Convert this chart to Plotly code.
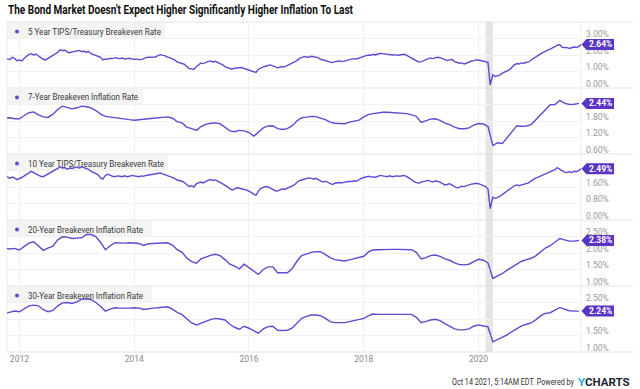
import json
import pandas as pd
import plotly.graph_objects as go
from plotly.subplots import make_subplots

TITLE = "The Bond Market Doesn't Expect Higher Significantly Higher Inflation To Last"
FOOTER = "Oct 14 2021, 5:14AM EDT. Powered by"

names = [
    "5 Year TIPS/Treasury Breakeven Rate",
    "7-Year Breakeven Inflation Rate",
    "10 Year TIPS/Treasury Breakeven Rate",
    "20-Year Breakeven Inflation Rate",
    "30-Year Breakeven Inflation Rate",
]
last_labels = ["2.64%", "2.44%", "2.49%", "2.38%", "2.24%"]

# y-axis ranges / tick values / tick labels per panel (percent)
y_ranges = [[0, 4.0], [0.6, 3.0], [0, 3.2], [1.0, 3.0], [1.0, 3.0]]
y_ticks = [[0, 1, 2, 3], [0.6, 1.2, 1.8, 2.4], [0, 0.8, 1.6, 2.4],
           [1.0, 1.5, 2.0, 2.5], [1.0, 1.5, 2.0, 2.5]]
y_ticktext = [["0.00%", "1.00%", "2.00%", "3.00%"],
              ["0.60%", "1.20%", "1.80%", ""],
              ["0.00%", "0.80%", "1.60%", ""],
              ["1.00%", "1.50%", "2.00%", "2.50%"],
              ["1.00%", "1.50%", "", "2.50%"]]

# ---- semi-monthly (1st & 15th) values: 5 Year breakeven ----
t5yr = [
    1.78, 1.72, 1.86, 1.80, 1.66,
    1.70, 1.64, 1.82, 1.92, 2.02, 2.08, 2.00, 2.06, 1.94, 1.84, 1.74, 1.70,
    1.78, 1.86, 1.98, 2.06, 2.16, 2.32, 2.26, 2.30, 2.18, 2.14, 2.20, 2.22,
    2.24, 2.28, 2.20, 2.24, 2.16, 2.22, 2.08, 2.02, 1.98, 1.94, 1.86, 1.70,
    1.76, 1.74, 1.80, 1.78, 1.84, 1.80, 1.78, 1.82, 1.76, 1.78, 1.80, 1.76,
    1.74, 1.76, 1.70, 1.72, 1.78, 1.84, 1.86, 1.88, 1.90, 1.88, 1.96, 2.02,
    1.98, 1.96, 1.86, 1.84, 1.76, 1.70, 1.58, 1.54, 1.50, 1.44, 1.30, 1.18,
    1.16, 1.12, 1.30, 1.42, 1.52, 1.48, 1.56, 1.60, 1.64, 1.58, 1.62, 1.56,
    1.48, 1.42, 1.30, 1.24, 1.18, 1.14, 1.20, 1.22, 1.26, 1.24, 1.18, 1.14,
    1.10, 1.02, 0.98, 0.94, 1.14, 1.22, 1.28, 1.32, 1.38, 1.40, 1.34, 1.28,
    1.22, 1.26, 1.30, 1.28, 1.36, 1.40, 1.50, 1.56, 1.66, 1.78, 1.86, 1.90,
    1.88, 1.86, 1.92, 1.90, 1.88, 1.84, 1.74, 1.70, 1.68, 1.64, 1.58, 1.54,
    1.60, 1.62, 1.64, 1.60, 1.62, 1.66, 1.72, 1.76, 1.78, 1.76, 1.82, 1.86,
    1.90, 1.96, 2.00, 1.98, 2.04, 2.00, 2.06, 2.10, 2.08, 2.06, 2.06, 2.04,
    2.00, 2.02, 1.98, 2.00, 2.02, 2.04, 1.98, 1.90, 1.84, 1.76, 1.66, 1.58,
    1.60, 1.66, 1.74, 1.78, 1.82, 1.78, 1.84, 1.86, 1.84, 1.80, 1.72, 1.66,
    1.72, 1.74, 1.60, 1.54, 1.50, 1.52, 1.46, 1.50, 1.58, 1.62, 1.66, 1.70,
    1.70, 1.66, 1.62, 1.58, 1.55, 0.20, 0.80, 0.70, 0.72, 0.78, 0.90, 0.98,
    1.06, 1.10, 1.26, 1.40, 1.48, 1.46, 1.52, 1.50, 1.56, 1.58, 1.70, 1.80,
    1.90, 1.98, 2.08, 2.16, 2.26, 2.30, 2.36, 2.42, 2.50, 2.60, 2.62, 2.48,
    2.44, 2.46, 2.40, 2.44, 2.48, 2.46, 2.52, 2.64,
]

# ---- semi-monthly values: 10 Year breakeven ----
t10yr = [
    2.10, 2.02, 2.08, 2.04, 1.96,
    2.00, 2.06, 2.14, 2.22, 2.30, 2.36, 2.30, 2.24, 2.16, 2.12, 2.10, 2.16,
    2.20, 2.26, 2.34, 2.42, 2.50, 2.58, 2.52, 2.54, 2.46, 2.52, 2.50, 2.54,
    2.56, 2.52, 2.58, 2.54, 2.50, 2.46, 2.36, 2.30, 2.26, 2.20, 2.04, 1.98,
    2.16, 2.22, 2.18, 2.12, 2.10, 2.14, 2.12, 2.10, 2.14, 2.10, 2.12, 2.16,
    2.14, 2.12, 2.10, 2.14, 2.12, 2.16, 2.18, 2.20, 2.22, 2.24, 2.26, 2.28,
    2.24, 2.20, 2.18, 2.12, 2.06, 2.02, 1.94, 1.92, 1.88, 1.82, 1.72, 1.62,
    1.66, 1.60, 1.76, 1.80, 1.84, 1.80, 1.88, 1.92, 1.96, 1.92, 1.94, 1.90,
    1.82, 1.76, 1.70, 1.62, 1.52, 1.46, 1.50, 1.56, 1.54, 1.50, 1.48, 1.46,
    1.40, 1.34, 1.24, 1.20, 1.40, 1.52, 1.58, 1.62, 1.60, 1.56, 1.48, 1.42,
    1.40, 1.46, 1.50, 1.48, 1.54, 1.58, 1.64, 1.70, 1.82, 1.90, 1.94, 1.98,
    2.00, 2.04, 2.02, 1.98, 2.02, 1.96, 1.88, 1.84, 1.88, 1.82, 1.76, 1.72,
    1.78, 1.80, 1.82, 1.80, 1.84, 1.86, 1.88, 1.86, 1.90, 1.88, 1.96, 2.02,
    2.06, 2.10, 2.12, 2.08, 2.10, 2.06, 2.12, 2.16, 2.14, 2.12, 2.10, 2.14,
    2.10, 2.12, 2.14, 2.12, 2.14, 2.16, 2.10, 2.04, 1.96, 1.86, 1.80, 1.78,
    1.84, 1.88, 1.90, 1.92, 1.88, 1.84, 1.90, 1.88, 1.84, 1.78, 1.70, 1.72,
    1.76, 1.70, 1.62, 1.56, 1.58, 1.64, 1.62, 1.66, 1.72, 1.74, 1.76, 1.78,
    1.76, 1.72, 1.68, 1.62, 1.50, 0.55, 1.10, 1.05, 1.10, 1.14, 1.24, 1.32,
    1.40, 1.50, 1.62, 1.66, 1.70, 1.66, 1.70, 1.72, 1.76, 1.80, 1.90, 1.98,
    2.04, 2.08, 2.14, 2.18, 2.26, 2.30, 2.34, 2.38, 2.44, 2.54, 2.46, 2.36,
    2.32, 2.30, 2.34, 2.30, 2.36, 2.34, 2.40, 2.49,
]

# ---- monthly values (Oct 2011 .. Oct 2021) ----
t7yr = [
    1.90, 1.92, 1.88,
    1.88, 2.00, 2.10, 2.13, 2.02, 1.95, 1.93, 2.05, 2.22, 2.34, 2.30, 2.24,
    2.28, 2.34, 2.32, 2.28, 2.18, 2.05, 1.97, 1.94, 1.93, 1.89, 1.87, 1.85,
    1.83, 1.84, 1.86, 1.88, 1.90, 1.92, 1.94, 1.95, 1.90, 1.78, 1.73, 1.58,
    1.52, 1.46, 1.60, 1.68, 1.72, 1.73, 1.70, 1.58, 1.44, 1.41, 1.46, 1.44,
    1.38, 1.25, 1.40, 1.55, 1.62, 1.63, 1.52, 1.49, 1.52, 1.62, 1.80, 1.92,
    1.94, 1.97, 1.96, 1.90, 1.85, 1.76, 1.72, 1.71, 1.70, 1.76, 1.79, 1.83,
    1.95, 2.04, 2.07, 2.10, 2.12, 2.12, 2.11, 2.10, 2.08, 2.07, 2.02, 1.97,
    1.75, 1.80, 1.87, 1.88, 1.82, 1.72, 1.67, 1.58, 1.52, 1.52, 1.55, 1.65,
    1.71, 1.69, 1.60, 0.91, 1.01, 0.98, 1.20, 1.40, 1.63, 1.61, 1.62, 1.67,
    1.85, 2.02, 2.22, 2.39, 2.40, 2.55, 2.45, 2.40, 2.41, 2.44,
]
t20yr = [
    2.15, 2.12, 2.14,
    2.09, 2.20, 2.30, 2.34, 2.22, 2.08, 2.15, 2.21, 2.40, 2.49, 2.48, 2.44,
    2.45, 2.46, 2.56, 2.56, 2.50, 2.32, 2.10, 2.22, 2.31, 2.30, 2.30, 2.31,
    2.30, 2.29, 2.23, 2.28, 2.29, 2.30, 2.30, 2.31, 2.24, 2.10, 2.02, 1.85,
    1.74, 1.69, 1.82, 1.88, 1.93, 1.96, 1.92, 1.80, 1.66, 1.60, 1.52, 1.66,
    1.55, 1.45, 1.35, 1.50, 1.58, 1.58, 1.40, 1.40, 1.40, 1.52, 1.75, 1.92,
    1.98, 2.02, 2.04, 2.04, 1.95, 1.86, 1.80, 1.77, 1.76, 1.79, 1.82, 1.86,
    1.90, 2.04, 2.09, 2.10, 2.11, 2.11, 2.11, 2.11, 2.11, 2.11, 2.10, 2.02,
    1.82, 1.86, 1.92, 1.94, 1.90, 1.82, 1.78, 1.70, 1.65, 1.64, 1.66, 1.74,
    1.81, 1.78, 1.70, 1.23, 1.30, 1.38, 1.48, 1.58, 1.68, 1.75, 1.80, 1.84,
    1.92, 2.03, 2.15, 2.22, 2.32, 2.44, 2.40, 2.36, 2.36, 2.38,
]
t30yr = [
    2.17, 2.20, 2.24,
    2.22, 2.30, 2.40, 2.42, 2.40, 2.28, 2.22, 2.26, 2.40, 2.49, 2.50, 2.47,
    2.52, 2.60, 2.61, 2.59, 2.50, 2.38, 2.24, 2.30, 2.34, 2.33, 2.32, 2.33,
    2.34, 2.33, 2.29, 2.32, 2.33, 2.34, 2.35, 2.37, 2.30, 2.20, 2.13, 2.00,
    1.88, 1.82, 1.88, 1.93, 1.98, 2.02, 2.00, 1.97, 1.84, 1.75, 1.69, 1.78,
    1.72, 1.64, 1.57, 1.70, 1.77, 1.78, 1.66, 1.65, 1.66, 1.72, 1.88, 2.02,
    2.08, 2.12, 2.12, 2.10, 2.02, 1.92, 1.89, 1.88, 1.89, 1.92, 1.95, 1.97,
    2.02, 2.10, 2.15, 2.14, 2.14, 2.14, 2.14, 2.14, 2.15, 2.15, 2.14, 2.05,
    1.89, 1.93, 1.97, 1.99, 1.95, 1.86, 1.78, 1.70, 1.67, 1.67, 1.70, 1.78,
    1.82, 1.80, 1.76, 1.31, 1.38, 1.44, 1.52, 1.62, 1.72, 1.79, 1.84, 1.88,
    1.98, 2.10, 2.17, 2.19, 2.27, 2.35, 2.30, 2.25, 2.24, 2.24,
]

# ---- dates ----
semi_dates = [pd.Timestamp(2011, 10, 15), pd.Timestamp(2011, 11, 1), pd.Timestamp(2011, 11, 15),
              pd.Timestamp(2011, 12, 1), pd.Timestamp(2011, 12, 15)]
for yr in range(2012, 2021):
    for mo in range(1, 13):
        semi_dates += [pd.Timestamp(yr, mo, 1), pd.Timestamp(yr, mo, 15)]
for mo in range(1, 10):
    semi_dates += [pd.Timestamp(2021, mo, 1), pd.Timestamp(2021, mo, 15)]
semi_dates += [pd.Timestamp(2021, 10, 1), pd.Timestamp(2021, 10, 14)]
monthly_dates = list(pd.date_range("2011-10-01", "2021-10-01", freq="MS"))

series = [(semi_dates, t5yr), (monthly_dates, t7yr), (semi_dates, t10yr),
          (monthly_dates, t20yr), (monthly_dates, t30yr)]

LINE = "#6548d2"
BADGE = "#5a33c6"
FONT = "Roboto, 'Noto Sans', sans-serif"

W, H = 640, 389
ML, MR, MT, MB = 7, 59, 22, 37
PW = W - ML - MR
PH = H - MT - MB
PANEL = PH / 5

# legend-box right edges and label widths (px) as drawn in the reference
legend_box_end = [165, 143, 168, 152, 152]
legend_text_w = [133, 110, 136, 115, 115]


def px_x(px):
    return (px - ML) / PW


def px_y(py):
    return (H - MB - py) / PH


fig = make_subplots(rows=5, cols=1, shared_xaxes=True, vertical_spacing=0)

shapes = []
annotations = []
fit = {TITLE: 345, FOOTER: 122}
for i, ((d, v), name, lab, rng, tks, ttx) in enumerate(
        zip(series, names, last_labels, y_ranges, y_ticks, y_ticktext)):
    n = len(v)
    fig.add_trace(go.Scatter(x=d[:n], y=v, mode="lines",
                             line=dict(color=LINE, width=1.4),
                             hoverinfo="skip", showlegend=False), row=i + 1, col=1)
    top = round(1 - i * 0.2, 4)
    bot = round(max(0.0, top - 0.2), 4)
    top_px = MT + i * PANEL
    yname = "yaxis" if i == 0 else f"yaxis{i + 1}"
    fig.layout[yname].update(
        domain=[bot, top], range=rng, side="right", tickvals=tks, ticktext=ttx,
        showgrid=True, gridcolor="#f1f1f1",
        zeroline=False, showline=False, ticks="",
        tickfont=dict(family=FONT, size=8.5, color="#9a9a9a"),
        ticklabelshift=-4, ticklabelstandoff=4, fixedrange=True,
    )
    yref = "y" if i == 0 else f"y{i + 1}"
    # end-value badge
    shapes.append(dict(type="path", xref="paper", yref=yref,
                       xsizemode="pixel", ysizemode="pixel",
                       xanchor=1.0, yanchor=v[-1],
                       path="M0.5,0 L5.5,5.5 L33,5.5 L33,-5.5 L5.5,-5.5 Z",
                       fillcolor=BADGE, line=dict(width=0), layer="above"))
    annotations.append(dict(xref="paper", yref=yref, x=1.0, y=v[-1], xshift=19.5,
                            text=f"<b>{lab}</b>", showarrow=False,
                            font=dict(family=FONT, size=8.5, color="white"),
                            xanchor="center", yanchor="middle"))
    # legend box, dot and label
    shapes.append(dict(type="rect", xref="paper", yref="paper",
                       x0=0, x1=px_x(legend_box_end[i]),
                       y0=px_y(top_px + 16.5), y1=px_y(top_px + 1),
                       fillcolor="rgba(242,242,242,0.88)", line=dict(width=0),
                       layer="below"))
    shapes.append(dict(type="circle", xref="paper", yref="paper",
                       xsizemode="pixel", ysizemode="pixel",
                       xanchor=px_x(17), yanchor=px_y(top_px + 9.5),
                       x0=-2, x1=2, y0=-2, y1=2,
                       fillcolor=LINE, line=dict(width=0), layer="above"))
    annotations.append(dict(xref="paper", yref="paper", x=px_x(26), y=px_y(top_px + 9.5),
                            xanchor="left", yanchor="middle", showarrow=False,
                            text=name, borderpad=1, align="left",
                            font=dict(family=FONT, size=8.5, color="#3a3a3a")))
    fit[name] = legend_text_w[i]

# panel separators
for i in range(6):
    yy = round(1 - i * 0.2, 4)
    shapes.append(dict(type="line", xref="paper", yref="paper",
                       x0=0, x1=px_x(633), y0=yy, y1=yy,
                       line=dict(color="#e2e2e2", width=1), layer="below"))
for xp in (0, 1):
    shapes.append(dict(type="line", xref="paper", yref="paper", x0=xp, x1=xp,
                       y0=0, y1=1, line=dict(color="#ececec", width=1), layer="below"))
# recession band
shapes.append(dict(type="rect", xref="x", yref="paper", x0="2020-02-15", x1="2020-04-01",
                   y0=0, y1=1, fillcolor="#dcdcdc", opacity=0.75, line=dict(width=0),
                   layer="below"))

annotations.append(dict(xref="paper", yref="paper", x=px_x(6), y=px_y(10.5),
                        xanchor="left", yanchor="middle", showarrow=False,
                        text=f"<b>{TITLE}</b>", borderpad=1, align="left",
                        font=dict(family=FONT, size=12, color="#111111")))
annotations.append(dict(xref="paper", yref="paper", x=px_x(451), y=px_y(381.5),
                        xanchor="left", yanchor="middle", showarrow=False,
                        text=FOOTER, borderpad=0, align="left",
                        font=dict(family=FONT, size=8.5, color="#333333")))
annotations.append(dict(xref="paper", yref="paper", x=px_x(577), y=px_y(381.5),
                        xanchor="left", yanchor="middle", showarrow=False,
                        text="<b><span style='color:#22a3e6'>Y</span>CHARTS</b>",
                        borderpad=0,
                        font=dict(family=FONT, size=11.5, color="#1d2535")))

for k in range(1, 6):
    xname = "xaxis" if k == 1 else f"xaxis{k}"
    fig.layout[xname].update(
        range=["2011-10-14", "2021-10-14"], showgrid=True, gridcolor="#efefef",
        tick0="2012-01-01", dtick="M24", tickformat="%Y", zeroline=False,
        showline=False, ticks="", fixedrange=True,
        showticklabels=(k == 5),
        tickfont=dict(family=FONT, size=8.5, color="#8a8a8a"),
    )

fig.update_layout(
    width=W, height=H, margin=dict(l=ML, r=MR, t=MT, b=MB),
    paper_bgcolor="white", plot_bgcolor="rgba(0,0,0,0)",
    shapes=shapes, annotations=annotations, showlegend=False,
)

post = """
document.body.style.margin = '0';
document.body.style.padding = '0';
var gd = document.getElementById('{plot_id}');
var fit = FITMAP;
function applyFit() {
  gd.querySelectorAll('text').forEach(function (t) {
    var s = t.textContent;
    if (Object.prototype.hasOwnProperty.call(fit, s)) {
      t.setAttribute('textLength', fit[s]);
      t.setAttribute('lengthAdjust', 'spacingAndGlyphs');
    }
  });
}
applyFit();
gd.on('plotly_afterplot', applyFit);
""".replace("FITMAP", json.dumps(fit))

fig.write_html("out.html", post_script=post, config={"displayModeBar": False})
